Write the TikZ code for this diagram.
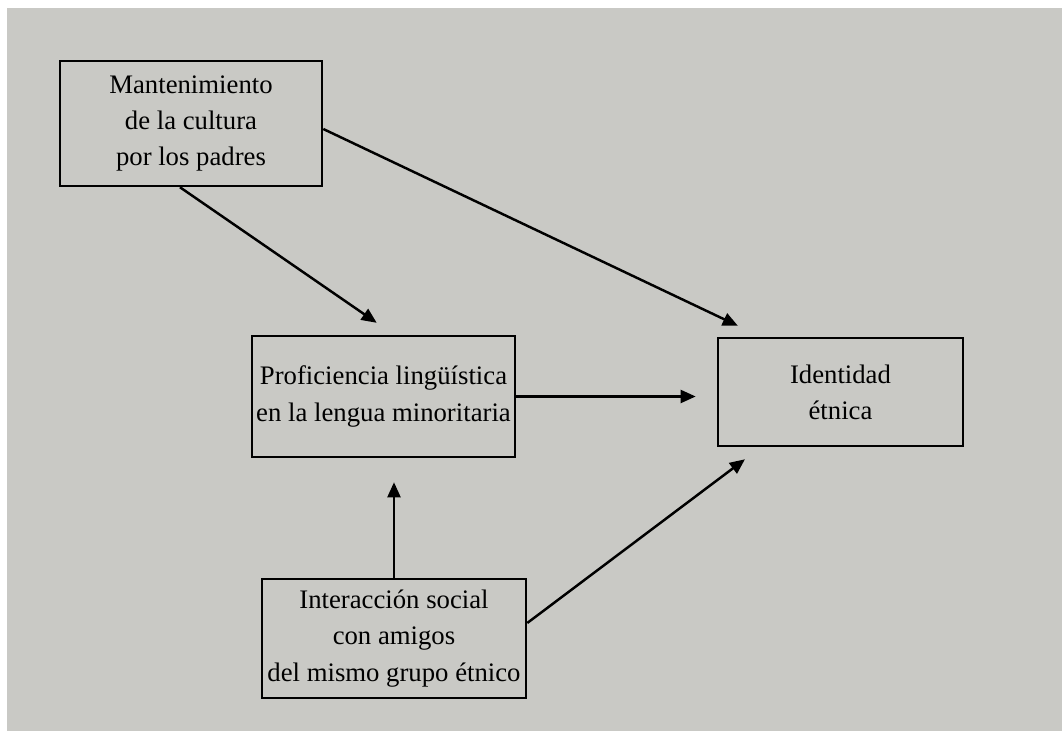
\documentclass[tikz,border=0pt]{standalone}
\usepackage{fontspec}
\setmainfont{Liberation Serif}
\usetikzlibrary{arrows.meta}
\usetikzlibrary{positioning}

\definecolor{fondo}{RGB}{201,201,197}

\begin{document}
\begin{tikzpicture}[x=0.01cm,y=-0.01cm,line width=0.7pt,>={Triangle[length=4.3pt,width=3.7pt]},
    caja/.style={draw,inner sep=0pt,align=center,font=\fontsize{7.6}{10.3}\selectfont}]
    \useasboundingbox (0,0) rectangle (1062,731);
    \fill[white] (0,0) rectangle (1062,731);
    \fill[fondo] (7,8) rectangle (1062,731);

    \node[caja,minimum width=2.62cm,minimum height=1.25cm] (mantenimiento) at (191,123.5) {Mantenimiento\\de la cultura\\por los padres};
    \node[caja,minimum width=2.63cm,minimum height=1.21cm] (proficiencia) at (383.5,396.5) {Proficiencia lingüística\\en la lengua minoritaria};
    \node[caja,minimum width=2.45cm,minimum height=1.08cm] (identidad) at (840.5,392) {Identidad\\étnica};
    \node[caja,minimum width=2.64cm,minimum height=1.19cm] (interaccion) at (394,638.5) {Interacción social\\con amigos\\del mismo grupo étnico};

    \draw[->,shorten >=0.21cm] ([xshift=-0.11cm]mantenimiento.south) -- ([xshift=0.105cm]proficiencia.north);
    \draw[->,shorten >=0.255cm] ([yshift=-0.055cm]mantenimiento.east) -- ([xshift=-0.795cm]identidad.north);
    \draw[->,shorten >=0.21cm] (proficiencia.east) -- (proficiencia.east -| identidad.west);
    \draw[->,shorten >=0.24cm] (interaccion.north) -- (interaccion.north |- proficiencia.south);
    \draw[->,shorten >=0.2cm] ([yshift=0.155cm]interaccion.east) -- ([xshift=-0.795cm]identidad.south);
\end{tikzpicture}
\end{document}
